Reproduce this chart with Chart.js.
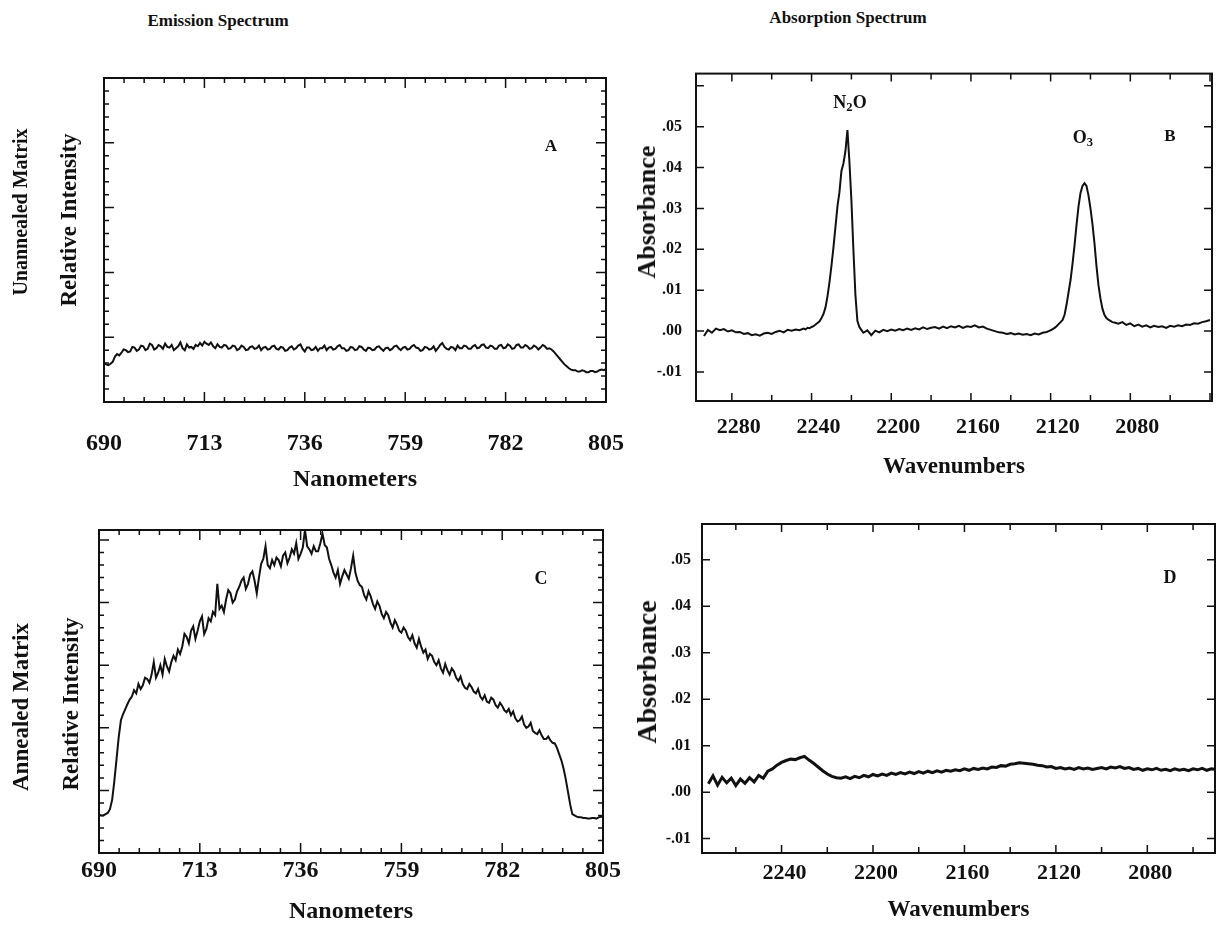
<!DOCTYPE html>
<html>
<head>
<meta charset="utf-8">
<title>Emission and absorption spectra</title>
<script src="https://cdn.jsdelivr.net/npm/chart.js@4.4.1/dist/chart.umd.min.js"></script>
<style>
  body { margin: 0; background: #fff; }
  #page {
    position: relative; width: 1222px; height: 928px; overflow: hidden;
    font-family: "Liberation Serif", "Times New Roman", serif; font-weight: bold; color: #111;
  }
  canvas { position: absolute; }
  .lbl { position: absolute; transform: translate(-50%, -50%); white-space: nowrap; line-height: 1; }
  .rot { transform: translate(-50%, -50%) rotate(-90deg); }
  sub { font-size: 0.7em; vertical-align: -0.25em; line-height: 0; }
</style>
</head>
<body>
<div id="page">
  <canvas id="chartA" width="680" height="450" style="left:0;top:50px"></canvas>
  <canvas id="chartC" width="680" height="428" style="left:0;top:500px"></canvas>
  <canvas id="chartB" width="602" height="450" style="left:620px;top:50px"></canvas>
  <canvas id="chartD" width="602" height="428" style="left:620px;top:500px"></canvas>

  <div class="lbl" style="left:218px;top:20px;font-size:17px">Emission Spectrum</div>
  <div class="lbl" style="left:848px;top:17px;font-size:17px">Absorption Spectrum</div>

  <div class="lbl rot" style="left:20px;top:212px;font-size:20px">Unannealed Matrix</div>
  <div class="lbl rot" style="left:68px;top:220px;font-size:23px">Relative Intensity</div>
  <div class="lbl rot" style="left:20px;top:707px;font-size:23px">Annealed Matrix</div>
  <div class="lbl rot" style="left:70px;top:704px;font-size:23px">Relative Intensity</div>
  <div class="lbl rot" style="left:647px;top:212px;font-size:26px">Absorbance</div>
  <div class="lbl rot" style="left:647px;top:672px;font-size:28px">Absorbance</div>

  <div class="lbl" style="left:551px;top:145px;font-size:17px">A</div>
  <div class="lbl" style="left:1170px;top:135px;font-size:17px">B</div>
  <div class="lbl" style="left:541px;top:578px;font-size:18px">C</div>
  <div class="lbl" style="left:1170px;top:577px;font-size:18px">D</div>
  <div class="lbl" style="left:850px;top:102px;font-size:18px">N<sub>2</sub>O</div>
  <div class="lbl" style="left:1083px;top:137px;font-size:18px">O<sub>3</sub></div>
</div>

<script>
// wavelength samples shared by the two emission traces (nm)
const nmAxis = [
  690, 690.5, 691, 691.5, 692, 692.5, 693, 693.5, 694, 694.5,
  695, 695.5, 696, 696.5, 697, 697.5, 698, 698.5, 699, 699.5,
  700, 700.5, 701, 701.5, 702, 702.5, 703, 703.5, 704, 704.5,
  705, 705.5, 706, 706.5, 707, 707.5, 708, 708.5, 709, 709.5,
  710, 710.5, 711, 711.5, 712, 712.5, 713, 713.5, 714, 714.5,
  715, 715.5, 716, 716.5, 717, 717.5, 718, 718.5, 719, 719.5,
  720, 720.5, 721, 721.5, 722, 722.5, 723, 723.5, 724, 724.5,
  725, 725.5, 726, 726.5, 727, 727.5, 728, 728.5, 729, 729.5,
  730, 730.5, 731, 731.5, 732, 732.5, 733, 733.5, 734, 734.5,
  735, 735.5, 736, 736.5, 737, 737.5, 738, 738.5, 739, 739.5,
  740, 740.5, 741, 741.5, 742, 742.5, 743, 743.5, 744, 744.5,
  745, 745.5, 746, 746.5, 747, 747.5, 748, 748.5, 749, 749.5,
  750, 750.5, 751, 751.5, 752, 752.5, 753, 753.5, 754, 754.5,
  755, 755.5, 756, 756.5, 757, 757.5, 758, 758.5, 759, 759.5,
  760, 760.5, 761, 761.5, 762, 762.5, 763, 763.5, 764, 764.5,
  765, 765.5, 766, 766.5, 767, 767.5, 768, 768.5, 769, 769.5,
  770, 770.5, 771, 771.5, 772, 772.5, 773, 773.5, 774, 774.5,
  775, 775.5, 776, 776.5, 777, 777.5, 778, 778.5, 779, 779.5,
  780, 780.5, 781, 781.5, 782, 782.5, 783, 783.5, 784, 784.5,
  785, 785.5, 786, 786.5, 787, 787.5, 788, 788.5, 789, 789.5,
  790, 790.5, 791, 791.5, 792, 792.5, 793, 793.5, 794, 794.5,
  795, 795.5, 796, 796.5, 797, 797.5, 798, 798.5, 799, 799.5,
  800, 800.5, 801, 801.5, 802, 802.5, 803, 803.5, 804, 804.5,
  805,
];

// relative intensity, arbitrary units (one major tick = 1)
const unannealedA = [
  0.60, 0.58, 0.57, 0.59, 0.62, 0.70, 0.74, 0.72, 0.76, 0.81,
  0.80, 0.77, 0.78, 0.85, 0.84, 0.79, 0.81, 0.87, 0.86, 0.80,
  0.82, 0.90, 0.88, 0.81, 0.83, 0.88, 0.86, 0.82, 0.90, 0.85,
  0.84, 0.88, 0.80, 0.83, 0.86, 0.92, 0.83, 0.80, 0.89, 0.84,
  0.85, 0.82, 0.88, 0.86, 0.91, 0.87, 0.93, 0.90, 0.88, 0.92,
  0.86, 0.83, 0.89, 0.85, 0.84, 0.88, 0.87, 0.82, 0.83, 0.87,
  0.86, 0.80, 0.82, 0.87, 0.85, 0.80, 0.81, 0.85, 0.86, 0.82,
  0.83, 0.87, 0.80, 0.84, 0.85, 0.81, 0.82, 0.86, 0.87, 0.82,
  0.81, 0.85, 0.84, 0.79, 0.80, 0.84, 0.86, 0.81, 0.83, 0.87,
  0.89, 0.82, 0.78, 0.84, 0.84, 0.80, 0.81, 0.85, 0.79, 0.83,
  0.83, 0.87, 0.80, 0.84, 0.85, 0.81, 0.82, 0.86, 0.88, 0.83,
  0.83, 0.79, 0.80, 0.85, 0.84, 0.80, 0.81, 0.86, 0.85, 0.81,
  0.79, 0.84, 0.83, 0.80, 0.81, 0.85, 0.86, 0.82, 0.79, 0.83,
  0.84, 0.80, 0.82, 0.86, 0.87, 0.83, 0.80, 0.84, 0.85, 0.81,
  0.82, 0.86, 0.88, 0.84, 0.83, 0.79, 0.80, 0.85, 0.84, 0.81,
  0.82, 0.86, 0.79, 0.83, 0.88, 0.91, 0.85, 0.82, 0.81, 0.85,
  0.84, 0.80, 0.87, 0.83, 0.83, 0.87, 0.86, 0.82, 0.82, 0.86,
  0.88, 0.83, 0.84, 0.88, 0.89, 0.84, 0.83, 0.87, 0.86, 0.82,
  0.82, 0.87, 0.88, 0.83, 0.84, 0.89, 0.87, 0.82, 0.83, 0.88,
  0.89, 0.84, 0.84, 0.88, 0.86, 0.82, 0.83, 0.87, 0.85, 0.81,
  0.84, 0.88, 0.86, 0.82, 0.83, 0.81, 0.78, 0.74, 0.70, 0.66,
  0.62, 0.58, 0.55, 0.52, 0.50, 0.49, 0.49, 0.47, 0.47, 0.49,
  0.48, 0.46, 0.46, 0.48, 0.48, 0.46, 0.47, 0.49, 0.50, 0.49,
  0.51,
];

const annealedC = [
  0.61, 0.60, 0.60, 0.62, 0.64, 0.70, 0.85, 1.15, 1.50, 1.85,
  2.12, 2.22, 2.30, 2.38, 2.45, 2.50, 2.60, 2.55, 2.70, 2.62,
  2.68, 2.80, 2.78, 2.72, 2.85, 3.05, 2.80, 2.88, 3.00, 2.85,
  3.10, 2.98, 2.90, 3.05, 3.15, 3.08, 3.25, 3.18, 3.30, 3.50,
  3.45, 3.35, 3.55, 3.62, 3.42, 3.55, 3.70, 3.78, 3.50, 3.58,
  3.75, 3.70, 3.85, 3.80, 4.30, 3.90, 3.95, 3.85, 4.05, 4.20,
  4.15, 4.00, 4.05, 4.18, 4.25, 4.35, 4.40, 4.22, 4.30, 4.45,
  4.50, 4.35, 4.15, 4.40, 4.62, 4.70, 4.90, 4.60, 4.55, 4.68,
  4.60, 4.72, 4.68, 4.58, 4.75, 4.80, 4.63, 4.72, 4.85, 4.78,
  4.95, 4.70, 4.78, 4.88, 5.16, 4.90, 4.85, 4.78, 4.90, 4.82,
  4.82, 4.95, 5.10, 4.92, 4.88, 4.70, 4.60, 4.48, 4.40, 4.52,
  4.30, 4.42, 4.52, 4.45, 4.38, 4.55, 4.75, 4.48, 4.35, 4.28,
  4.25, 4.12, 4.05, 4.18, 4.10, 3.98, 3.90, 4.02, 3.95, 3.82,
  3.75, 3.85, 3.80, 3.68, 3.60, 3.72, 3.65, 3.55, 3.52, 3.60,
  3.55, 3.45, 3.40, 3.48, 3.35, 3.28, 3.42, 3.30, 3.20, 3.25,
  3.10, 3.18, 3.15, 3.05, 3.00, 3.08, 2.95, 2.88, 3.02, 2.92,
  2.85, 2.95, 2.90, 2.80, 2.75, 2.82, 2.70, 2.64, 2.62, 2.70,
  2.65, 2.58, 2.55, 2.62, 2.50, 2.45, 2.52, 2.42, 2.40, 2.48,
  2.45, 2.36, 2.32, 2.40, 2.35, 2.28, 2.25, 2.30, 2.20, 2.26,
  2.15, 2.10, 2.12, 2.18, 2.05, 2.00, 2.02, 2.08, 1.95, 1.92,
  1.90, 1.96, 1.88, 1.82, 1.82, 1.86, 1.80, 1.76, 1.75, 1.68,
  1.58, 1.48, 1.35, 1.18, 0.98, 0.78, 0.62, 0.60, 0.58, 0.57,
  0.57, 0.56, 0.56, 0.55, 0.55, 0.56, 0.56, 0.55, 0.57, 0.58,
  0.58,
];

// [wavenumber, absorbance]
const absorptionB = [
  [2294, -0.0012], [2292, 0.0003], [2290, -0.0004], [2288, 0.0006], [2286, 0.0002],
  [2284, 0.0005], [2282, -0.0001], [2280, 0.0002], [2278, -0.0003], [2276, -0.0002],
  [2274, -0.0007], [2272, -0.0005], [2270, -0.0010], [2268, -0.0008], [2266, -0.0011],
  [2264, -0.0006], [2262, -0.0004], [2260, -0.0007], [2258, -0.0002], [2256, 0.0001],
  [2254, -0.0003], [2252, 0.0003], [2250, 0.0001], [2248, 0.0004], [2246, 0.0002],
  [2244, 0.0006], [2243, 0.0004], [2242, 0.0008], [2241, 0.0007], [2240, 0.0010],
  [2239, 0.0012], [2238, 0.0016], [2237, 0.0020], [2236, 0.0024], [2235, 0.0032],
  [2234, 0.0042], [2233, 0.0058], [2232, 0.0085], [2231, 0.0120], [2230, 0.0160],
  [2229, 0.0205], [2228, 0.0255], [2227, 0.0305], [2226, 0.0340], [2225, 0.0392],
  [2224, 0.0410], [2223, 0.0440], [2222, 0.0492], [2221, 0.0415], [2220, 0.0320],
  [2219, 0.0200], [2218, 0.0090], [2217, 0.0025], [2216, 0.0010], [2215, 0.0003],
  [2214, -0.0004], [2212, 0.0002], [2210, -0.0010], [2208, 0.0001], [2206, -0.0003],
  [2204, 0.0003], [2202, 0.0000], [2200, 0.0004], [2198, 0.0001], [2196, 0.0005],
  [2194, 0.0002], [2192, 0.0006], [2190, 0.0003], [2188, 0.0007], [2186, 0.0004],
  [2184, 0.0009], [2182, 0.0005], [2180, 0.0008], [2178, 0.0010], [2176, 0.0006],
  [2174, 0.0011], [2172, 0.0007], [2170, 0.0012], [2168, 0.0009], [2166, 0.0013],
  [2164, 0.0008], [2162, 0.0012], [2160, 0.0010], [2158, 0.0014], [2156, 0.0009],
  [2154, 0.0011], [2152, 0.0006], [2150, 0.0003], [2148, 0.0000], [2146, -0.0003],
  [2144, -0.0004], [2142, -0.0007], [2140, -0.0005], [2138, -0.0008], [2136, -0.0006],
  [2134, -0.0009], [2132, -0.0007], [2130, -0.0010], [2128, -0.0006], [2126, -0.0008],
  [2124, -0.0004], [2122, -0.0002], [2121, 0.0000], [2120, 0.0002], [2119, 0.0005],
  [2118, 0.0008], [2117, 0.0012], [2116, 0.0017], [2115, 0.0022], [2114, 0.0027],
  [2113, 0.0040], [2112, 0.0065], [2111, 0.0095], [2110, 0.0125], [2109, 0.0165],
  [2108, 0.0210], [2107, 0.0260], [2106, 0.0305], [2105, 0.0338], [2104, 0.0355],
  [2103, 0.0362], [2102, 0.0355], [2101, 0.0332], [2100, 0.0300], [2099, 0.0262],
  [2098, 0.0215], [2097, 0.0160], [2096, 0.0113], [2095, 0.0080], [2094, 0.0055],
  [2093, 0.0040], [2092, 0.0032], [2091, 0.0028], [2090, 0.0025], [2089, 0.0022],
  [2088, 0.0021], [2086, 0.0018], [2084, 0.0022], [2082, 0.0015], [2080, 0.0019],
  [2078, 0.0012], [2076, 0.0016], [2074, 0.0011], [2072, 0.0014], [2070, 0.0009],
  [2068, 0.0013], [2066, 0.0010], [2064, 0.0012], [2062, 0.0008], [2060, 0.0013],
  [2058, 0.0011], [2056, 0.0014], [2054, 0.0012], [2052, 0.0016], [2050, 0.0015],
  [2048, 0.0019], [2046, 0.0018], [2044, 0.0022], [2042, 0.0024], [2040, 0.0027],
];

const absorptionD = [
  [2272, 0.0018], [2270, 0.0035], [2268, 0.0015], [2266, 0.0032], [2264, 0.0020],
  [2262, 0.0030], [2260, 0.0014], [2258, 0.0028], [2256, 0.0019], [2254, 0.0031],
  [2252, 0.0022], [2250, 0.0036], [2248, 0.0030], [2246, 0.0045], [2244, 0.0050],
  [2242, 0.0058], [2240, 0.0064], [2238, 0.0068], [2236, 0.0071], [2234, 0.0070],
  [2232, 0.0074], [2230, 0.0077], [2228, 0.0069], [2226, 0.0062], [2224, 0.0054],
  [2222, 0.0046], [2220, 0.0039], [2218, 0.0034], [2216, 0.0031], [2214, 0.0030],
  [2212, 0.0033], [2210, 0.0029], [2208, 0.0034], [2206, 0.0031], [2204, 0.0036],
  [2202, 0.0033], [2200, 0.0038], [2198, 0.0035], [2196, 0.0039], [2194, 0.0036],
  [2192, 0.0041], [2190, 0.0038], [2188, 0.0042], [2186, 0.0039], [2184, 0.0043],
  [2182, 0.0040], [2180, 0.0044], [2178, 0.0041], [2176, 0.0045], [2174, 0.0042],
  [2172, 0.0046], [2170, 0.0043], [2168, 0.0047], [2166, 0.0045], [2164, 0.0048],
  [2162, 0.0046], [2160, 0.0050], [2158, 0.0047], [2156, 0.0051], [2154, 0.0049],
  [2152, 0.0052], [2150, 0.0050], [2148, 0.0054], [2146, 0.0053], [2144, 0.0057],
  [2142, 0.0056], [2140, 0.0060], [2138, 0.0061], [2136, 0.0063], [2134, 0.0062],
  [2132, 0.0061], [2130, 0.0060], [2128, 0.0058], [2126, 0.0057], [2124, 0.0054],
  [2122, 0.0055], [2120, 0.0051], [2118, 0.0053], [2116, 0.0050], [2114, 0.0052],
  [2112, 0.0049], [2110, 0.0053], [2108, 0.0050], [2106, 0.0052], [2104, 0.0049],
  [2102, 0.0051], [2100, 0.0053], [2098, 0.0050], [2096, 0.0054], [2094, 0.0052],
  [2092, 0.0055], [2090, 0.0051], [2088, 0.0053], [2086, 0.0049], [2084, 0.0051],
  [2082, 0.0047], [2080, 0.0050], [2078, 0.0048], [2076, 0.0051], [2074, 0.0047],
  [2072, 0.0049], [2070, 0.0046], [2068, 0.0050], [2066, 0.0047], [2064, 0.0049],
  [2062, 0.0046], [2060, 0.0050], [2058, 0.0048], [2056, 0.0051], [2054, 0.0047],
  [2052, 0.0050], [2050, 0.0049],
];

const nmTicks = [690, 713, 736, 759, 782, 805];
const intensityTicks = [0, 1, 2, 3, 4, 5];
const wnTicksB = [2280, 2240, 2200, 2160, 2120, 2080];
const wnTicksD = [2240, 2200, 2160, 2120, 2080];
const absTicks = [-0.01, 0, 0.01, 0.02, 0.03, 0.04, 0.05];
const absTickLabels = ["-.01", ".00", ".01", ".02", ".03", ".04", ".05"];

const INK = "#111";
const SERIF = "Liberation Serif";

// box around the plot plus inward tick marks on all four sides
const frameTicks = {
  id: "frameTicks",
  afterDraw(chart, args, opts) {
    const { ctx, chartArea: a, scales } = chart;
    ctx.save();
    ctx.strokeStyle = INK;
    ctx.lineWidth = 2;
    ctx.strokeRect(a.left, a.top, a.right - a.left, a.bottom - a.top);
    ctx.lineWidth = 1.5;
    drawTicks(ctx, scales.x, opts.xMinor, opts, a, true);
    drawTicks(ctx, scales.y, opts.yMinor, opts, a, false);
    ctx.restore();
  },
};

function drawTicks(ctx, scale, minor, opts, a, horizontal) {
  const majors = scale.ticks.map((t) => t.value);
  const start = Math.min(...majors);
  const step = Math.abs(majors[1] - majors[0]) / minor;
  const lo = Math.min(scale.min, scale.max);
  const hi = Math.max(scale.min, scale.max);
  const kFrom = Math.ceil((lo - start) / step - 1e-6);
  const kTo = Math.floor((hi - start) / step + 1e-6);
  for (let k = kFrom; k <= kTo; k++) {
    const p = scale.getPixelForValue(start + k * step);
    const len = Math.abs(k % minor) === 0 ? opts.major : opts.minor;
    ctx.beginPath();
    if (horizontal) {
      ctx.moveTo(p, a.bottom); ctx.lineTo(p, a.bottom - len);
      ctx.moveTo(p, a.top); ctx.lineTo(p, a.top + len);
    } else {
      ctx.moveTo(a.left, p); ctx.lineTo(a.left + len, p);
      ctx.moveTo(a.right, p); ctx.lineTo(a.right - len, p);
    }
    ctx.stroke();
  }
}

function makePanel(p) {
  const canvas = document.getElementById(p.id);
  new Chart(canvas, {
    type: "line",
    data: {
      datasets: [{
        data: p.points,
        borderColor: INK,
        borderWidth: p.lineWidth,
        pointRadius: 0,
        tension: 0,
        fill: false,
      }],
    },
    options: {
      responsive: false,
      animation: false,
      events: [],
      layout: { padding: { left: 0, top: p.area.top, right: canvas.width - p.area.right, bottom: 0 } },
      plugins: { legend: { display: false }, tooltip: { enabled: false }, frameTicks: p.marks },
      scales: {
        x: {
          type: "linear",
          min: p.x.min,
          max: p.x.max,
          reverse: !!p.x.reverse,
          grid: { display: false, drawTicks: false },
          border: { display: false },
          afterBuildTicks: (s) => { s.ticks = p.x.ticks.map((v) => ({ value: v })); },
          afterFit: (s) => { s.height = canvas.height - p.area.bottom; },
          ticks: {
            autoSkip: false, maxRotation: 0, padding: p.x.pad, color: INK,
            labelOffset: p.x.shift || 0,
            font: { family: SERIF, size: p.x.size, weight: "bold" },
            callback: (v) => String(v),
          },
          title: {
            display: true, text: p.x.title, color: INK,
            font: { family: SERIF, size: p.x.titleSize, weight: "bold" },
            padding: { top: 0, bottom: p.x.titlePad },
          },
        },
        y: {
          type: "linear",
          min: p.y.min,
          max: p.y.max,
          grid: { display: false, drawTicks: false },
          border: { display: false },
          afterBuildTicks: (s) => { s.ticks = p.y.ticks.map((v) => ({ value: v })); },
          afterFit: (s) => { s.width = p.area.left; },
          ticks: {
            display: !!p.y.labels, autoSkip: false, padding: p.y.pad || 0, color: INK,
            font: { family: SERIF, size: 16, weight: "bold" },
            callback: (v, i) => (p.y.labels ? p.y.labels[i] : ""),
          },
        },
      },
    },
    plugins: [frameTicks],
  });
}

const toXY = (xs, ys) => xs.map((x, i) => ({ x, y: ys[i] }));
const pairsToXY = (pairs) => pairs.map(([x, y]) => ({ x, y }));

makePanel({
  id: "chartA",
  points: toXY(nmAxis, unannealedA),
  lineWidth: 2,
  area: { left: 104, top: 28, right: 606, bottom: 352 },
  x: { min: 690, max: 805, ticks: nmTicks, size: 24, pad: 27, title: "Nanometers", titleSize: 24, titlePad: 6 },
  y: { min: 0, max: 5, ticks: intensityTicks },
  marks: { xMinor: 5, yMinor: 5, major: 10, minor: 5 },
});

makePanel({
  id: "chartC",
  points: toXY(nmAxis, annealedC),
  lineWidth: 2,
  area: { left: 99, top: 30, right: 603, bottom: 353 },
  x: { min: 690, max: 805, ticks: nmTicks, size: 24, pad: 3, title: "Nanometers", titleSize: 24, titlePad: 2 },
  y: { min: 0, max: 5.16, ticks: intensityTicks },
  marks: { xMinor: 5, yMinor: 5, major: 10, minor: 5 },
});

makePanel({
  id: "chartB",
  points: pairsToXY(absorptionB),
  lineWidth: 2,
  area: { left: 76, top: 23, right: 592, bottom: 351 },
  x: { min: 2039, max: 2298, reverse: true, ticks: wnTicksB, shift: 7, size: 22, pad: 13, title: "Wavenumbers", titleSize: 23, titlePad: 19 },
  y: { min: -0.0171, max: 0.063, ticks: absTicks, labels: absTickLabels, pad: 14 },
  marks: { xMinor: 2, yMinor: 1, major: 8, minor: 6 },
});

makePanel({
  id: "chartD",
  points: pairsToXY(absorptionD),
  lineWidth: 3,
  area: { left: 82, top: 24, right: 595, bottom: 353 },
  x: { min: 2050.4, max: 2274.8, reverse: true, ticks: wnTicksD, shift: 3, size: 22, pad: 7, title: "Wavenumbers", titleSize: 23, titlePad: 4 },
  y: { min: -0.0131, max: 0.0577, ticks: absTicks, labels: absTickLabels, pad: 11 },
  marks: { xMinor: 2, yMinor: 1, major: 8, minor: 6 },
});
</script>
</body>
</html>
